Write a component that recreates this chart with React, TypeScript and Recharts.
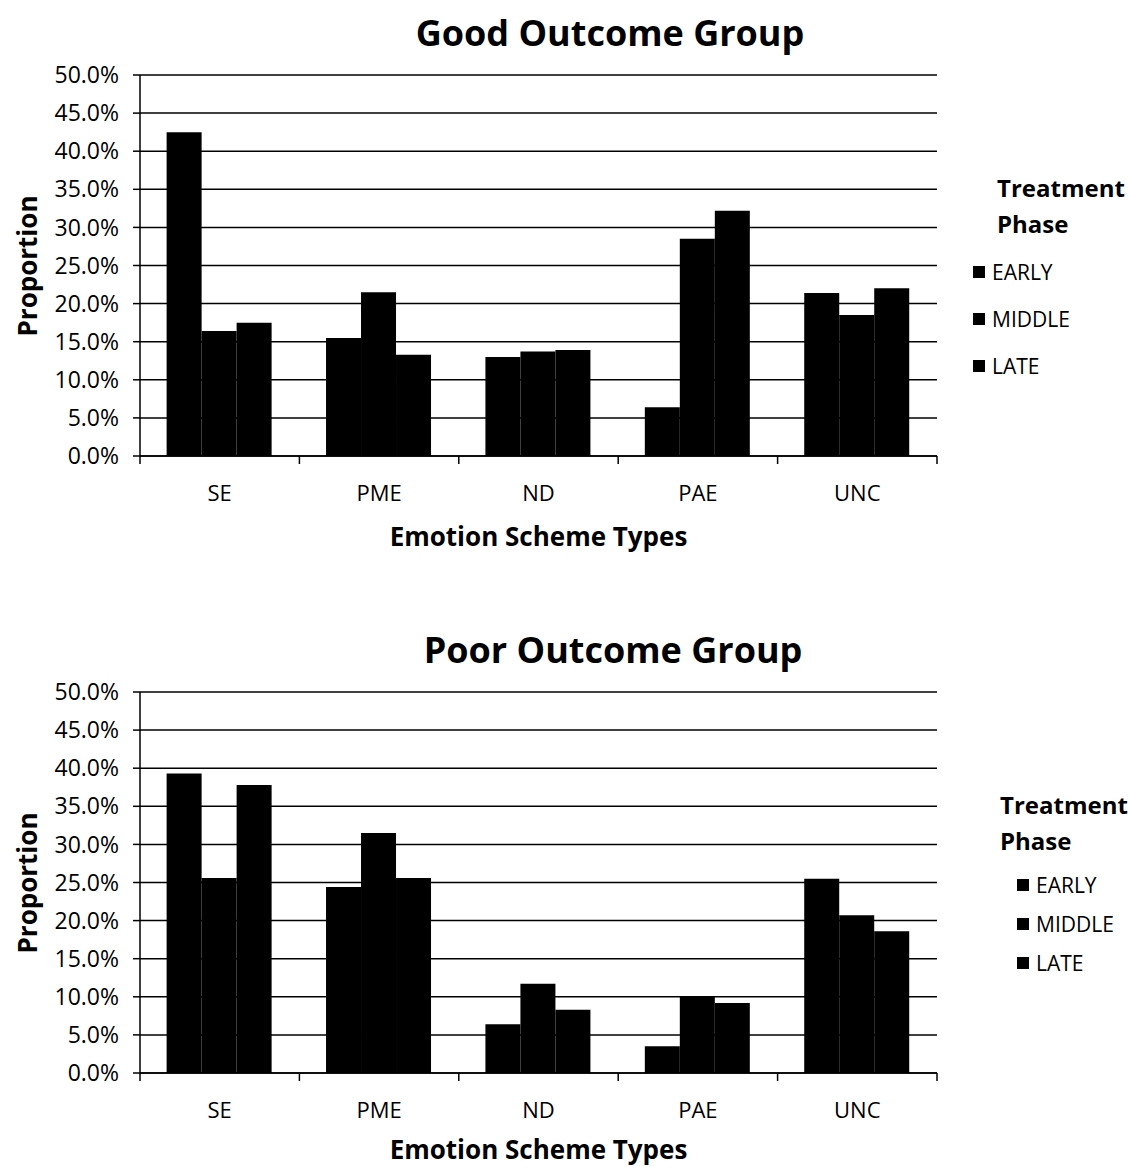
import { BarChart, Bar, XAxis, YAxis, CartesianGrid, Legend } from 'recharts'

const categories = ['SE', 'PME', 'ND', 'PAE', 'UNC']
const phases = ['EARLY', 'MIDDLE', 'LATE']

// proportions in percent, one entry per category
const goodEarly = [42.5, 15.5, 13.0, 6.4, 21.4]
const goodMiddle = [16.4, 21.5, 13.7, 28.5, 18.5]
const goodLate = [17.5, 13.3, 13.9, 32.2, 22.0]

const poorEarly = [39.3, 24.4, 6.4, 3.5, 25.5]
const poorMiddle = [25.6, 31.5, 11.7, 10.0, 20.7]
const poorLate = [37.8, 25.6, 8.3, 9.2, 18.6]

const yTicks = [0, 5, 10, 15, 20, 25, 30, 35, 40, 45, 50]

const FONT = '"Open Sans", "Liberation Sans", sans-serif'
const W = 1130
const PLOT_LEFT = 140
const PLOT_RIGHT = 937
const PLOT_TOP = 75
const PLOT_BOTTOM = 456
const Y_AXIS_W = 60
const X_AXIS_H = 30
const BAND = (PLOT_RIGHT - PLOT_LEFT) / categories.length

function buildRows(early: number[], middle: number[], late: number[]) {
  return categories.map((c, i) => ({
    name: c,
    EARLY: early[i],
    MIDDLE: middle[i],
    LATE: late[i],
  }))
}

// excel-style axis: tick marks sit on the category boundaries, labels in the middle
function CategoryTick(props: any) {
  const { x, y, payload, index } = props
  const half = BAND / 2
  return (
    <g>
      <line x1={x - half} x2={x - half} y1={y} y2={y + 8} stroke="#000" strokeWidth={1.5} />
      {index === categories.length - 1 && (
        <line x1={x + half} x2={x + half} y1={y} y2={y + 8} stroke="#000" strokeWidth={1.5} />
      )}
      <text
        x={x}
        y={y + 36}
        textAnchor="middle"
        dominantBaseline="central"
        fill="#000"
        fontSize={22}
        fontFamily={FONT}
      >
        {payload.value}
      </text>
    </g>
  )
}

type LegendLayout = { itemGap: number; itemIndent: number }

function PhaseLegend({ payload, layout }: { payload?: any[]; layout: LegendLayout }) {
  const colorOf = (name: string) => (payload ?? []).find((p) => p.value === name)?.color ?? '#000'
  return (
    <div style={{ fontFamily: FONT, color: '#000' }}>
      <div style={{ fontWeight: 700, fontSize: 24, lineHeight: '36px' }}>
        Treatment
        <br />
        Phase
      </div>
      <div style={{ marginLeft: layout.itemIndent, marginTop: 6 }}>
        {phases.map((ph) => (
          <div
            key={ph}
            style={{ display: 'flex', alignItems: 'center', height: layout.itemGap, fontSize: 21 }}
          >
            <span style={{ width: 12, height: 12, background: colorOf(ph), marginRight: 7, display: 'inline-block' }} />
            {ph}
          </div>
        ))}
      </div>
    </div>
  )
}

type PanelProps = {
  title: string
  rows: Record<string, string | number>[]
  height: number
  titleX: number
  axisTitleGap: number
  legendLeft: number
  legendTop: number
  legend: LegendLayout
}

function Panel({ title, rows, height, titleX, axisTitleGap, legendLeft, legendTop, legend }: PanelProps) {
  const textStyle = {
    position: 'absolute' as const,
    fontFamily: FONT,
    color: '#000',
    whiteSpace: 'nowrap' as const,
    lineHeight: 1.1,
  }
  return (
    <div style={{ position: 'relative', width: W, height }}>
      <BarChart
        width={W}
        height={height}
        data={rows}
        barGap={0}
        barCategoryGap="16.7%"
        margin={{
          top: PLOT_TOP,
          left: PLOT_LEFT - Y_AXIS_W,
          right: W - PLOT_RIGHT,
          bottom: height - PLOT_BOTTOM - X_AXIS_H,
        }}
      >
        <CartesianGrid vertical={false} stroke="#000" strokeWidth={1.5} />
        <XAxis
          dataKey="name"
          height={X_AXIS_H}
          tickSize={0}
          tickMargin={0}
          tickLine={false}
          axisLine={{ stroke: '#000', strokeWidth: 1.5 }}
          tick={<CategoryTick />}
          interval={0}
        />
        <YAxis
          width={Y_AXIS_W}
          domain={[0, 50]}
          ticks={yTicks}
          interval={0}
          tickSize={7}
          tickMargin={14}
          tickFormatter={(v: number) => v.toFixed(1) + '%'}
          tick={{ fill: '#000', fontSize: 23, fontFamily: FONT }}
          tickLine={{ stroke: '#000', strokeWidth: 1.5 }}
          axisLine={{ stroke: '#000', strokeWidth: 1.5 }}
        />
        <Legend
          layout="vertical"
          verticalAlign="middle"
          align="center"
          wrapperStyle={{ left: legendLeft, top: legendTop, width: W - legendLeft, bottom: 'auto', right: 'auto' }}
          content={(p: any) => <PhaseLegend payload={p.payload} layout={legend} />}
        />
        {phases.map((ph) => (
          <Bar key={ph} dataKey={ph} fill="#000" isAnimationActive={false} />
        ))}
      </BarChart>
      <div style={{ ...textStyle, left: titleX, top: 33, transform: 'translate(-50%, -50%)', fontSize: 36, fontWeight: 700 }}>
        {title}
      </div>
      <div
        style={{
          ...textStyle,
          left: 27,
          top: (PLOT_TOP + PLOT_BOTTOM) / 2,
          transform: 'translate(-50%, -50%) rotate(-90deg)',
          fontSize: 26,
          fontWeight: 700,
        }}
      >
        Proportion
      </div>
      <div
        style={{
          ...textStyle,
          left: (PLOT_LEFT + PLOT_RIGHT) / 2,
          top: PLOT_BOTTOM + axisTitleGap,
          transform: 'translate(-50%, -50%)',
          fontSize: 26,
          fontWeight: 700,
        }}
      >
        Emotion Scheme Types
      </div>
    </div>
  )
}

export default function App() {
  return (
    <div style={{ position: 'absolute', left: 0, top: 0, width: W, height: 1167, background: '#fff' }}>
      <Panel
        title="Good Outcome Group"
        rows={buildRows(goodEarly, goodMiddle, goodLate)}
        height={617}
        titleX={610}
        axisTitleGap={80}
        legendLeft={997}
        legendTop={170}
        legend={{ itemGap: 47, itemIndent: -24 }}
      />
      <Panel
        title="Poor Outcome Group"
        rows={buildRows(poorEarly, poorMiddle, poorLate)}
        height={550}
        titleX={613}
        axisTitleGap={76}
        legendLeft={1000}
        legendTop={170}
        legend={{ itemGap: 39, itemIndent: 17 }}
      />
    </div>
  )
}
